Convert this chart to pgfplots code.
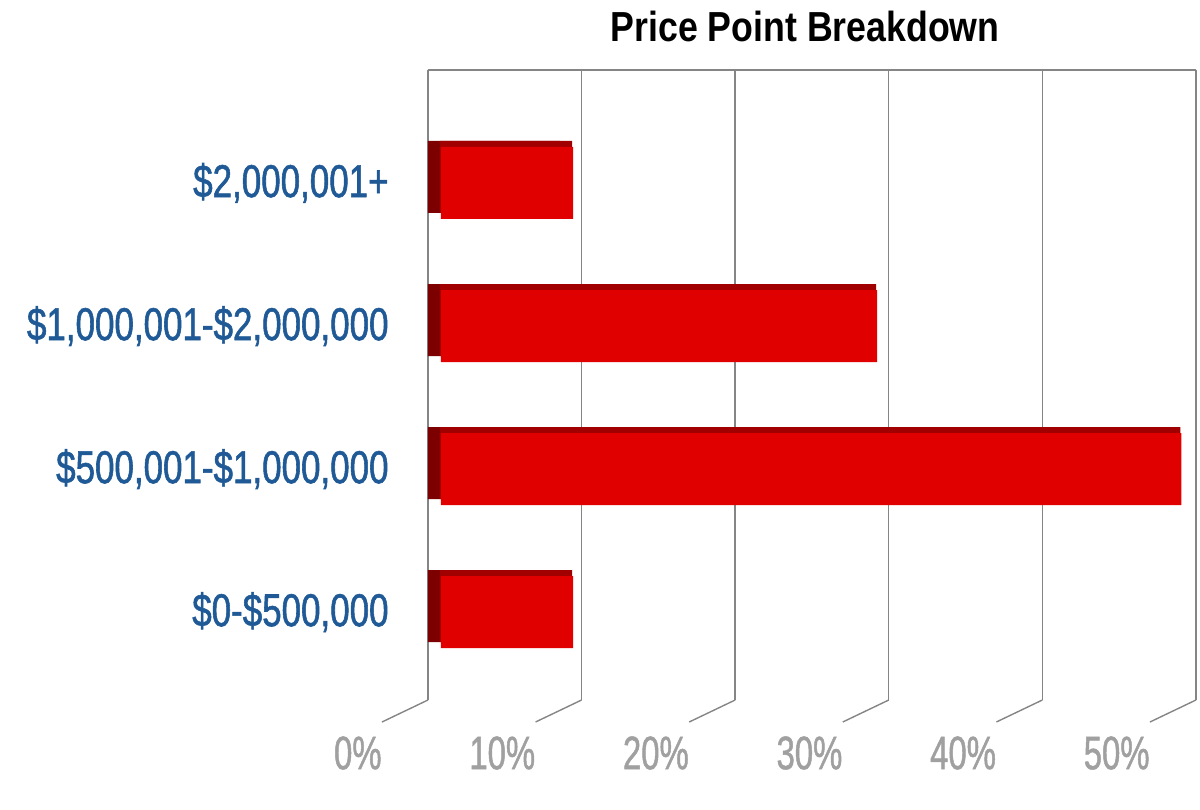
\documentclass[border=0pt]{standalone}
\usepackage{pgfplots}
\pgfplotsset{compat=1.18}
\usepackage{pgfplotstable}
\usepackage{fontspec}
\setmainfont{Liberation Sans}[FakeStretch=0.8]
\newfontfamily\titlefont{Liberation Sans}[FakeStretch=0.85]
\newfontfamily\labelfont{Liberation Sans}[FakeStretch=0.76, FakeBold=1.2]
\newfontfamily\tickfont{Liberation Sans}[FakeStretch=0.70, FakeBold=1]
\definecolor{barfront}{HTML}{E00000}
\definecolor{bartop}{HTML}{A00000}
\definecolor{barside}{HTML}{7C0000}
\definecolor{lblblue}{HTML}{1F5A96}
\definecolor{tickgray}{HTML}{A0A0A0}
\definecolor{gridgray}{HTML}{858585}
\pgfplotstableread{
y v
0 8.6
1 48.2
2 28.4
3 8.6
}\pricedata
\begin{document}
\begin{tikzpicture}
\path[use as bounding box] (-214pt,-54.5pt) rectangle (386pt,350pt);
\begin{axis}[
  at={(0,0)}, anchor=south west,
  scale only axis, width=384pt, height=315pt,
  xbar, bar width=36pt,
  xmin=0, xmax=50, ymin=-0.615, ymax=3.79,
  xtick={0,10,20,30,40,50},
  xticklabels={0\%,10\%,20\%,30\%,40\%,50\%},
  ytick={0,1,2,3},
  yticklabels={{\$0-\$500,000},{\$500,001-\$1,000,000},{\$1,000,001-\$2,000,000},{\$2,000,001+}},
  major tick length=0pt,
  axis line style={draw=none},
  xmajorgrids, major grid style={draw=gridgray, line width=0.7pt},
  xticklabel style={font=\tickfont\fontsize{23.5}{26}\selectfont, text=tickgray, anchor=north east, inner sep=0pt, xshift=-23pt, yshift=-18pt},
  yticklabel style={font=\labelfont\fontsize{23}{26}\selectfont, text=lblblue, anchor=east, inner sep=0pt, xshift=-19.5pt},
  title={\textbf{Price Point Breakdown}},
  title style={font=\titlefont\fontsize{21}{24}\selectfont, at={(rel axis cs:0.491,1)}, anchor=center, yshift=16pt},
  clip=false,
]
\addplot[draw=none, fill=barside, bar shift=3pt] table[x=v, y=y] {\pricedata};
\addplot[draw=none, fill=bartop, bar shift=3pt, xshift=6pt] table[x=v, y=y] {\pricedata};
\addplot[draw=none, fill=barfront, bar shift=0pt, xshift=6.5pt] table[x=v, y=y] {\pricedata};
\draw[gridgray, line width=0.7pt] (rel axis cs:0,1) -- (rel axis cs:1,1);
\pgfplotsinvokeforeach{0,10,20,30,40,50}{
  \draw[gridgray, line width=0.7pt] (axis cs:#1,-0.615) -- ++(-23pt,-11pt);
}
\end{axis}
\end{tikzpicture}
\end{document}
